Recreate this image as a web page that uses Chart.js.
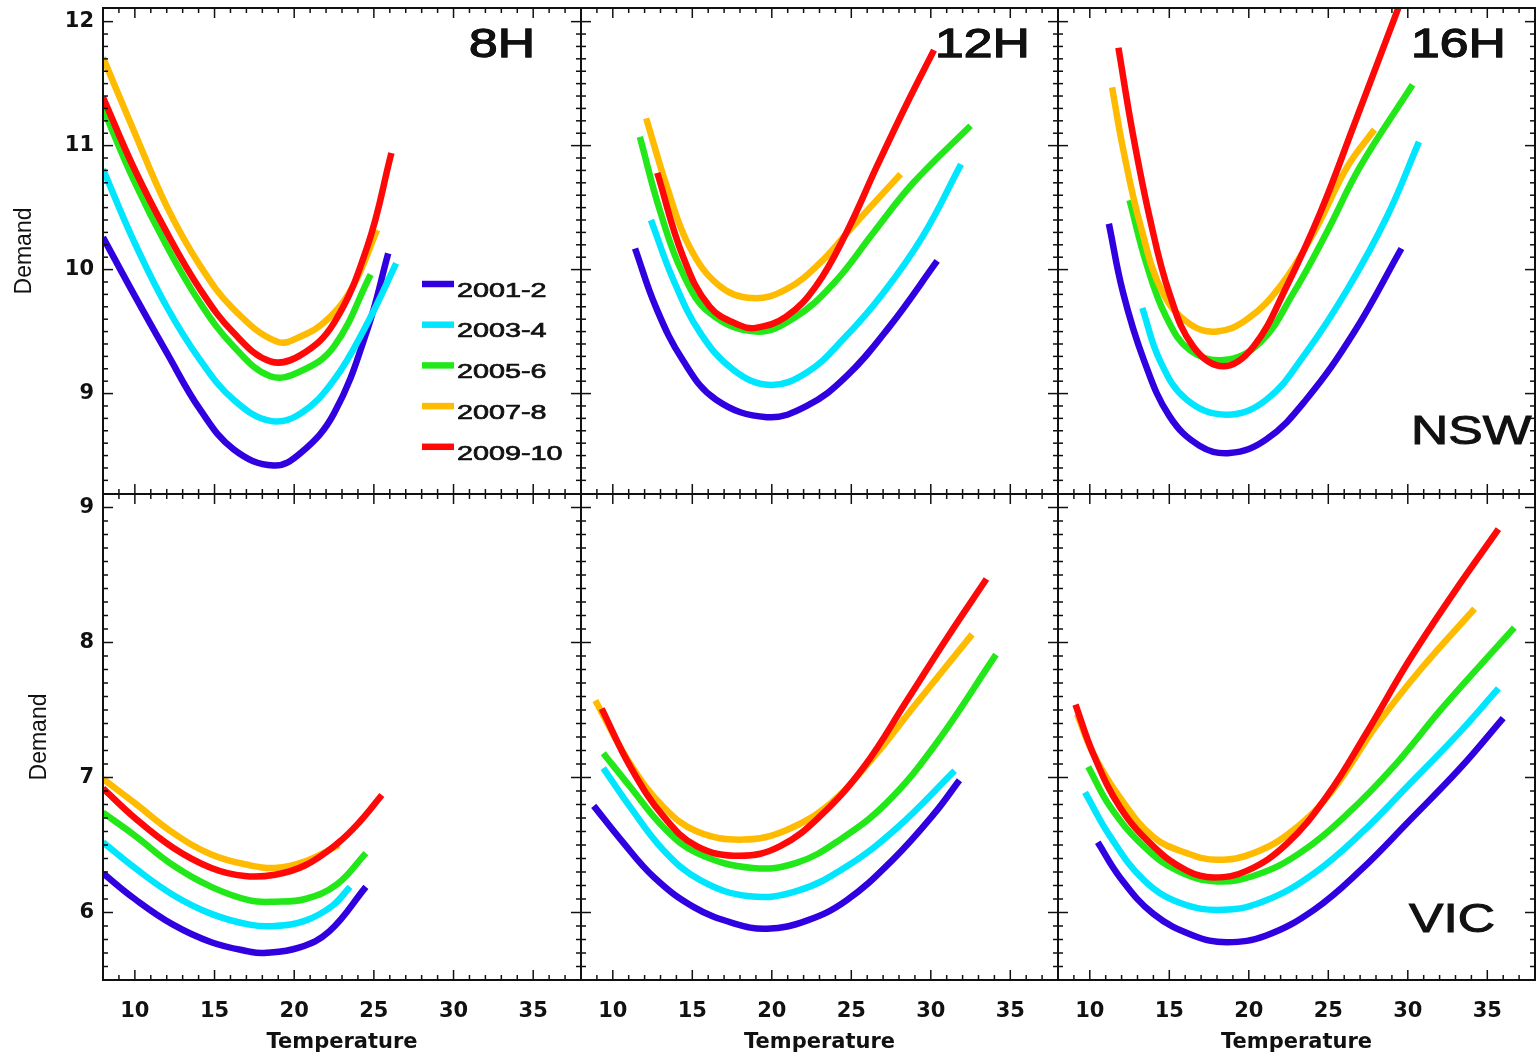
<!DOCTYPE html>
<html>
<head>
<meta charset="utf-8">
<script src="https://cdn.jsdelivr.net/npm/chart.js@4.4.1/dist/chart.umd.min.js"></script>
<style>
  html, body { margin: 0; padding: 0; background: #fff; }
  #wrap { position: relative; width: 1539px; height: 1057px; overflow: hidden; }
  #wrap canvas { position: absolute; left: 0; top: 0; }
</style>
</head>
<body>
<div id="wrap"></div>
<script>
// legend order, one colour each
const periods = ['2001-2', '2003-4', '2005-6', '2007-8', '2009-10'];
const hours = ['8H', '12H', '16H'];
const regions = ['NSW', 'VIC'];

const tempTicks = [10, 15, 20, 25, 30, 35];
const nswTicks = [9, 10, 11, 12];
const vicTicks = [6, 7, 8, 9];

// [temperature, demand] pairs, one list per period
const nsw8h = [
  [[8.0,10.26],[9.9,9.81],[12.0,9.33],[14.1,8.87],[16.2,8.55],[18.7,8.42],[20.4,8.52],[22.5,8.84],[24.6,9.52],[25.9,10.13]],
  [[8.0,10.81],[9.9,10.24],[12.0,9.70],[14.1,9.27],[16.2,8.95],[18.5,8.78],[20.4,8.84],[22.5,9.11],[24.6,9.57],[26.4,10.05]],
  [[8.0,11.30],[9.9,10.73],[12.0,10.19],[14.1,9.73],[16.2,9.38],[18.5,9.14],[20.4,9.18],[22.5,9.38],[24.8,9.96]],
  [[8.0,11.71],[9.9,11.13],[12.0,10.51],[14.1,10.03],[16.2,9.68],[18.9,9.42],[20.4,9.46],[22.1,9.60],[23.7,9.87],[25.2,10.32]],
  [[8.0,11.39],[9.9,10.83],[12.0,10.30],[14.1,9.84],[16.2,9.49],[18.5,9.26],[20.4,9.31],[22.5,9.57],[24.6,10.19],[26.1,10.94]]
];
const nsw12h = [
  [[11.4,10.17],[12.7,9.70],[14.4,9.27],[16.5,8.95],[19.7,8.81],[22.2,8.90],[24.7,9.14],[27.4,9.54],[30.4,10.07]],
  [[12.4,10.40],[13.8,9.92],[15.5,9.49],[17.6,9.19],[19.9,9.07],[22.2,9.17],[24.5,9.44],[27.0,9.81],[29.5,10.27],[31.9,10.85]],
  [[11.7,11.07],[13.0,10.46],[14.4,9.97],[16.1,9.65],[19.0,9.50],[21.4,9.61],[23.9,9.89],[26.4,10.30],[28.9,10.70],[32.5,11.16]],
  [[12.1,11.22],[13.4,10.67],[14.8,10.19],[16.7,9.87],[18.8,9.77],[20.9,9.84],[23.0,10.05],[25.1,10.35],[28.1,10.77]],
  [[12.8,10.78],[14.4,10.11],[16.1,9.70],[18.0,9.55],[19.0,9.53],[20.9,9.62],[22.8,9.87],[24.7,10.30],[26.6,10.83],[28.5,11.34],[30.2,11.77]]
];
const nsw16h = [
  [[11.2,10.37],[12.1,9.81],[13.4,9.27],[15.0,8.82],[16.9,8.58],[18.8,8.52],[21.1,8.63],[23.6,8.95],[26.6,9.49],[29.6,10.17]],
  [[13.3,9.69],[14.4,9.27],[16.1,8.95],[18.6,8.83],[21.1,8.95],[23.6,9.33],[26.2,9.84],[28.7,10.43],[30.7,11.03]],
  [[12.5,10.56],[13.6,10.03],[14.8,9.62],[16.3,9.35],[18.4,9.27],[20.7,9.41],[22.8,9.81],[24.9,10.30],[27.0,10.83],[30.3,11.49]],
  [[11.4,11.47],[12.1,10.97],[13.2,10.35],[14.6,9.81],[16.3,9.56],[18.0,9.50],[19.9,9.60],[22.0,9.87],[24.1,10.30],[26.2,10.83],[27.9,11.13]],
  [[11.8,11.79],[12.7,11.10],[13.8,10.40],[15.0,9.81],[16.5,9.38],[18.4,9.22],[20.3,9.38],[22.4,9.87],[24.5,10.46],[26.6,11.16],[29.7,12.21]]
];
const vic8h = [
  [[8.0,6.29],[10.0,6.10],[12.4,5.91],[14.8,5.78],[17.2,5.71],[18.1,5.70],[20.3,5.74],[22.2,5.86],[24.5,6.19]],
  [[8.0,6.52],[10.0,6.33],[12.4,6.13],[14.8,5.99],[17.2,5.91],[18.8,5.90],[20.7,5.94],[22.4,6.05],[23.5,6.19]],
  [[8.0,6.74],[10.0,6.57],[12.4,6.35],[14.8,6.19],[17.2,6.09],[18.8,6.08],[20.7,6.10],[22.7,6.21],[24.5,6.44]],
  [[8.0,6.99],[10.0,6.81],[12.4,6.59],[14.8,6.43],[17.2,6.35],[18.8,6.33],[20.7,6.38],[22.8,6.50]],
  [[8.0,6.92],[10.0,6.70],[12.4,6.48],[14.8,6.33],[16.9,6.27],[18.8,6.28],[20.7,6.35],[22.7,6.51],[24.1,6.67],[25.5,6.87]]
];
const vic12h = [
  [[8.8,6.79],[10.5,6.54],[12.6,6.26],[15.1,6.04],[17.6,5.92],[19.7,5.88],[22.2,5.94],[24.7,6.09],[27.6,6.39],[30.2,6.73],[31.8,6.98]],
  [[9.4,7.07],[11.1,6.78],[13.2,6.46],[15.5,6.24],[18.6,6.12],[21.6,6.16],[24.7,6.34],[27.9,6.63],[31.5,7.05]],
  [[9.4,7.18],[11.1,6.93],[13.2,6.63],[15.3,6.44],[18.8,6.33],[21.6,6.37],[24.3,6.54],[27.2,6.81],[30.2,7.23],[34.1,7.91]],
  [[8.9,7.57],[11.1,7.10],[13.2,6.78],[15.3,6.60],[18.2,6.54],[20.9,6.61],[23.7,6.81],[26.4,7.15],[28.9,7.52],[32.6,8.06]],
  [[9.3,7.51],[11.1,7.08],[13.2,6.71],[15.3,6.49],[18.0,6.42],[20.5,6.49],[23.0,6.71],[25.8,7.08],[28.5,7.57],[31.0,8.03],[33.5,8.47]]
];
const vic16h = [
  [[10.5,6.52],[11.9,6.26],[14.0,5.99],[16.5,5.83],[18.6,5.78],[21.1,5.83],[24.1,6.02],[27.0,6.31],[30.1,6.68],[33.3,7.07],[36.0,7.44]],
  [[9.7,6.89],[11.3,6.56],[13.4,6.24],[15.7,6.07],[18.4,6.02],[21.1,6.09],[24.1,6.29],[27.0,6.58],[30.1,6.95],[33.3,7.34],[35.7,7.66]],
  [[9.9,7.08],[11.3,6.78],[13.4,6.49],[15.5,6.31],[18.0,6.23],[20.5,6.28],[23.2,6.44],[26.2,6.73],[29.1,7.08],[32.2,7.52],[36.7,8.11]],
  [[9.2,7.47],[10.2,7.18],[11.9,6.85],[14.0,6.56],[16.1,6.44],[18.0,6.39],[20.3,6.44],[22.8,6.61],[25.3,6.91],[28.0,7.38],[30.8,7.80],[34.2,8.25]],
  [[9.1,7.54],[10.2,7.18],[11.9,6.78],[14.0,6.49],[16.1,6.31],[17.8,6.26],[19.9,6.31],[22.4,6.51],[24.9,6.86],[27.4,7.33],[30.1,7.87],[32.9,8.37],[35.7,8.84]]
];

// ---- layout / style ----
const W = 1539, H = 1057;
const colLeft = [103, 581, 1058];
const colWidth = [478, 477, 477];
const rowTop = [8, 494];
const panelH = 486;
const yRange = [[8.19, 12.11], [5.5, 9.1]];
const colors = ['#3000e0', '#00e6ff', '#22e81a', '#ffbb00', '#ff0808'];
const ink = '#111';

const panels = [
  { data: nsw8h, row: 0, col: 0 },
  { data: nsw12h, row: 0, col: 1 },
  { data: nsw16h, row: 0, col: 2 },
  { data: vic8h, row: 1, col: 0 },
  { data: vic12h, row: 1, col: 1 },
  { data: vic16h, row: 1, col: 2 }
];

// IDL style frame with inward major/minor ticks on all four sides
const frameTicks = {
  id: 'frameTicks',
  afterDraw(chart) {
    const { ctx, chartArea: a, scales: { x, y } } = chart;
    const seg = (x1, y1, x2, y2) => { ctx.beginPath(); ctx.moveTo(x1, y1); ctx.lineTo(x2, y2); ctx.stroke(); };
    ctx.save();
    ctx.strokeStyle = ink;
    ctx.lineWidth = 1.5;
    for (let k = Math.ceil(x.min); k <= x.max; k++) {
      if (k <= x.min + 0.05 || k >= x.max - 0.05) continue;
      const px = x.getPixelForValue(k);
      const len = k % 5 === 0 ? 10 : 5;
      seg(px, a.bottom, px, a.bottom - len);
      seg(px, a.top, px, a.top + len);
    }
    for (let k = Math.ceil(y.min * 10 - 1e-6); k <= Math.floor(y.max * 10 + 1e-6); k++) {
      const v = k / 10;
      if (v <= y.min + 0.02 || v >= y.max - 0.02) continue;
      const py = y.getPixelForValue(v);
      const len = k % 10 === 0 ? 10 : 5;
      seg(a.left, py, a.left + len, py);
      seg(a.right, py, a.right - len, py);
    }
    ctx.lineWidth = 2;
    ctx.strokeRect(a.left, a.top, a.right - a.left, a.bottom - a.top);
    ctx.restore();
  }
};

// wide text like the original (it was stretched sideways)
function wideText(ctx, text, x, y, font, sx, weight) {
  ctx.save();
  ctx.font = font;
  ctx.translate(x, y);
  ctx.scale(sx, 1);
  ctx.fillText(text, 0, 0);
  ctx.lineWidth = weight;
  ctx.strokeText(text, 0, 0);
  ctx.restore();
}

// panel captions and the small legend inside the first panel
const panelText = {
  id: 'panelText',
  afterDraw(chart, args, opts) {
    const { ctx } = chart;
    ctx.save();
    ctx.fillStyle = ink;
    ctx.strokeStyle = ink;
    ctx.textBaseline = 'alphabetic';
    (opts.items || []).forEach(t => {
      wideText(ctx, t.text, t.x, t.y, '40px "Liberation Sans", Arial, sans-serif', 1.29, 1);
    });
    const lg = opts.legend;
    if (lg) {
      chart.data.datasets.forEach((ds, i) => {
        const yy = lg.y + i * lg.gap;
        ctx.save();
        ctx.strokeStyle = ds.borderColor;
        ctx.lineWidth = 6.5;
        ctx.beginPath();
        ctx.moveTo(lg.x, yy);
        ctx.lineTo(lg.x + lg.len, yy);
        ctx.stroke();
        ctx.restore();
        wideText(ctx, ds.label, lg.x + lg.len + 3, yy + 12.7, '21px "Liberation Sans", Arial, sans-serif', 1.37, 0.7);
      });
    }
    ctx.restore();
  }
};

const tickFont = { family: '"DejaVu Sans", sans-serif', size: 21, weight: 'bold' };

function captions(p) {
  const items = [];
  const hx = [469, 935, 1411];
  items.push({ text: hours[p.col], x: hx[p.col], y: 57 });
  if (p.col === 2) {
    items.push(p.row === 0 ? { text: regions[0], x: 1411, y: 444 } : { text: regions[1], x: 1409, y: 932 });
  }
  return items;
}

const wrap = document.getElementById('wrap');
panels.forEach(p => {
  const cv = document.createElement('canvas');
  cv.width = W;
  cv.height = H;
  wrap.appendChild(cv);

  const showX = p.row === 1;
  const showY = p.col === 0;
  const top = rowTop[p.row];
  const right = colLeft[p.col] + colWidth[p.col];

  new Chart(cv, {
    type: 'line',
    data: {
      datasets: periods.map((label, i) => ({
        label,
        data: p.data[i].map(([t, d]) => ({ x: t, y: d })),
        borderColor: colors[i],
        backgroundColor: colors[i],
        order: periods.length - 1 - i
      }))
    },
    options: {
      responsive: false,
      animation: false,
      devicePixelRatio: 1,
      events: [],
      layout: {
        padding: {
          left: showY ? 0 : colLeft[p.col],
          right: W - right,
          top: top,
          bottom: showX ? 0 : H - (top + panelH)
        }
      },
      elements: {
        point: { radius: 0 },
        line: { borderWidth: 6.5, tension: 0.4, borderCapStyle: 'butt', borderJoinStyle: 'round', fill: false }
      },
      plugins: {
        legend: { display: false },
        tooltip: { enabled: false },
        panelText: {
          items: captions(p),
          legend: (p.row === 0 && p.col === 0) ? { x: 422, y: 284, gap: 40.7, len: 32 } : null
        }
      },
      scales: {
        x: {
          type: 'linear',
          min: 8,
          max: 38,
          display: showX,
          afterBuildTicks: s => { s.ticks = tempTicks.map(v => ({ value: v })); },
          afterFit: s => { if (showX) { s.height = H - (top + panelH); s.paddingLeft = 0; s.paddingRight = 0; } },
          grid: { display: false, drawTicks: false },
          border: { display: false },
          ticks: { padding: 19, color: ink, font: tickFont, maxRotation: 0, autoSkip: false },
          title: { display: true, text: 'Temperature', color: ink, font: tickFont, padding: { top: 0, bottom: 2 } }
        },
        y: {
          type: 'linear',
          min: yRange[p.row][0],
          max: yRange[p.row][1],
          display: showY,
          afterBuildTicks: s => { s.ticks = (p.row === 0 ? nswTicks : vicTicks).map(v => ({ value: v })); },
          afterFit: s => { if (showY) { s.width = colLeft[0]; s.paddingTop = 0; s.paddingBottom = 0; } },
          grid: { display: false, drawTicks: false },
          border: { display: false },
          ticks: { padding: 9, color: ink, font: tickFont, autoSkip: false },
          title: {
            display: true,
            text: 'Demand',
            color: ink,
            font: { family: '"Liberation Sans", Arial, sans-serif', size: 23 },
            padding: { top: p.row === 0 ? 11 : 26, bottom: 0 }
          }
        }
      }
    },
    plugins: [frameTicks, panelText]
  });
});
</script>
</body>
</html>
